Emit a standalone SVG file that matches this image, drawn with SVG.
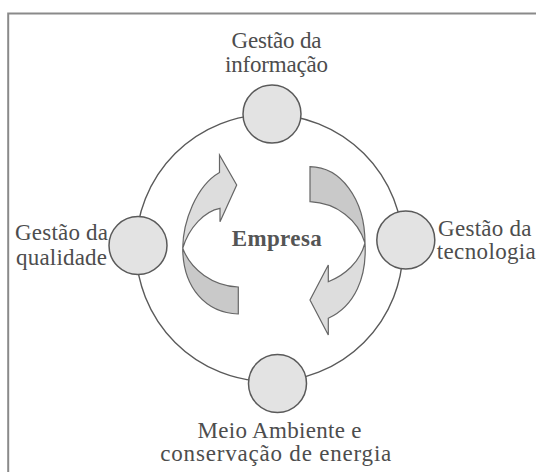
<svg xmlns="http://www.w3.org/2000/svg" width="536" height="472" viewBox="0 0 536 472">
  <style>
    .ctr { font-weight: bold; fill: #555555; }
    .cap { fill: #4d4d4d; }
    .node { fill: #e3e3e3; stroke: #5a5a5a; stroke-width: 1.5; }
    .ring { fill: none; stroke: #5a5a5a; stroke-width: 1.4; }
    .light { fill: #dddddd; stroke: #666666; stroke-width: 1.2; stroke-linejoin: miter; }
    .dark { fill: #c9c9c9; stroke: #666666; stroke-width: 1.2; stroke-linejoin: miter; }
  </style>
  <rect x="0" y="0" width="536" height="472" fill="#ffffff"/>
  <rect x="8.2" y="13.5" width="540" height="470" fill="none" stroke="#8a8a8a" stroke-width="2"/>

  <g id="connectors">
    <circle class="ring" cx="269.5" cy="248" r="133.5"/>
  </g>

  <g font-family="Liberation Serif" font-size="23" text-anchor="middle">
  <g id="node-empresa">
    <path class="light" d="M182.7,248.3 C183,222 196,186 219.5,172.5 L219.5,155 L236.7,185 L220,221.7 L220,208.3 C205,211 189,227 182.7,248.3 Z"/>
    <path class="dark" d="M182.7,248.3 C183,288 206,313 238.3,314 L238.3,287 C213,286 191,270 182.7,248.3 Z"/>
    <path class="dark" d="M310,166.7 C340,167 365,198 365,243 C358,220 337,203 310,201.7 Z"/>
    <path class="light" d="M365,243 C367,277 355,306 328.3,318.3 L328.3,335 L310,300 L328.3,265 L328.3,281.7 C345,275 360,262 365,243 Z"/>
    <text class="ctr" x="276.7" y="245.7" textLength="90">Empresa</text>
  </g>

  <g id="node-informacao">
    <circle class="node" cx="272" cy="114" r="29"/>
    <text class="cap" x="276.5" y="48.3" textLength="90">Gestão da</text>
    <text class="cap" x="276.5" y="71.7" textLength="103">informação</text>
  </g>

  <g id="node-qualidade">
    <circle class="node" cx="138" cy="245.5" r="29"/>
    <text class="cap" x="61.5" y="240" textLength="93">Gestão da</text>
    <text class="cap" x="61.5" y="265" textLength="91">qualidade</text>
  </g>

  <g id="node-tecnologia">
    <circle class="node" cx="405.8" cy="240" r="29"/>
    <text class="cap" x="484.8" y="235.5" textLength="93.5">Gestão da</text>
    <text class="cap" x="486.3" y="258.5" textLength="99">tecnologia</text>
  </g>

  <g id="node-meio-ambiente">
    <circle class="node" cx="277.5" cy="383.5" r="29"/>
    <text class="cap" x="279.5" y="438.3" textLength="164">Meio Ambiente e</text>
    <text class="cap" x="275.8" y="461" textLength="231">conservação de energia</text>
  </g>
  </g>
</svg>
